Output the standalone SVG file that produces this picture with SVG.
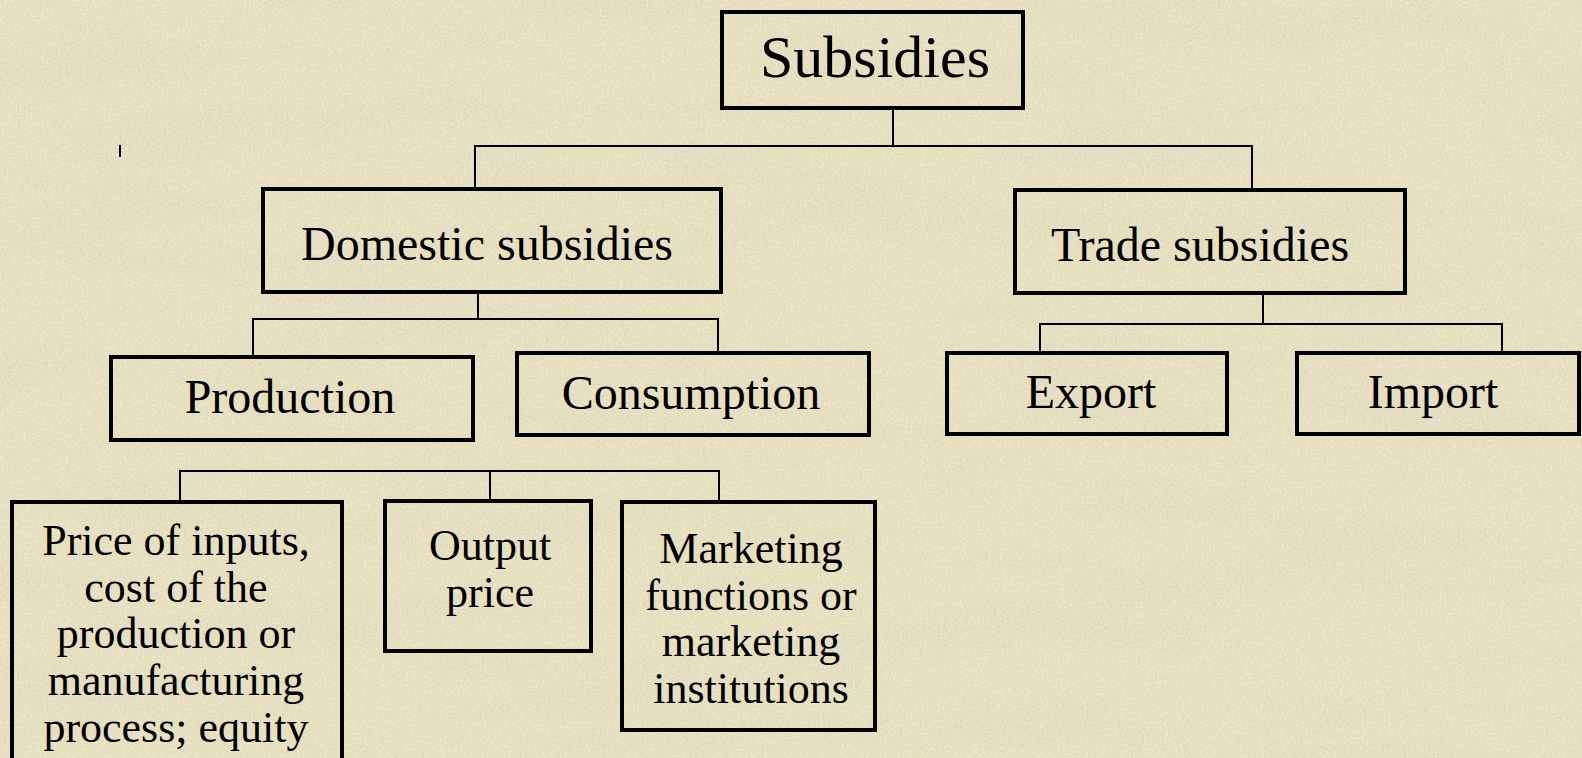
<svg xmlns="http://www.w3.org/2000/svg" width="1582" height="758" viewBox="0 0 1582 758">
  <defs>
    <style>
      .box { fill: none; stroke: #000; stroke-width: 4; }
      .wire { fill: none; stroke: #000; stroke-width: 2; }
      .lbl { font-family: "Liberation Serif", "Times New Roman", serif; fill: #000; text-anchor: middle; }
      .big { font-size: 60px; }
      .mid { font-size: 48px; }
      .small { font-size: 44px; }
    </style>
    <!-- parchment grain: dark mottling -->
    <filter id="grain" x="0" y="0" width="100%" height="100%">
      <feTurbulence type="fractalNoise" baseFrequency="0.3" numOctaves="3" seed="7" result="n"/>
      <feColorMatrix in="n" type="matrix" values="0 0 0 0 0.72  0 0 0 0 0.67  0 0 0 0 0.5  0 0 0 0.9 -0.3" result="spots"/>
      <feComposite in="spots" in2="SourceGraphic" operator="in"/>
    </filter>
    <!-- parchment grain: light flecks -->
    <filter id="flecks" x="0" y="0" width="100%" height="100%">
      <feTurbulence type="fractalNoise" baseFrequency="0.45" numOctaves="2" seed="21" result="n"/>
      <feColorMatrix in="n" type="matrix" values="0 0 0 0 0.95  0 0 0 0 0.93  0 0 0 0 0.82  0 0 0 0.9 -0.3"/>
      <feComposite in2="SourceGraphic" operator="in"/>
    </filter>
    <!-- long faint streaks -->
    <filter id="streaks" x="0" y="0" width="100%" height="100%">
      <feTurbulence type="fractalNoise" baseFrequency="0.004 0.02" numOctaves="2" seed="3" result="s"/>
      <feColorMatrix in="s" type="matrix" values="0 0 0 0 0.7  0 0 0 0 0.65  0 0 0 0 0.5  0 0 0 0.6 -0.2"/>
      <feComposite in2="SourceGraphic" operator="in"/>
    </filter>
  </defs>

  <!-- background -->
  <rect width="1582" height="758" fill="#E5DDB9"/>
  <rect width="1582" height="758" fill="#E5DDB9" filter="url(#streaks)"/>
  <rect width="1582" height="758" fill="#E5DDB9" filter="url(#grain)"/>
  <rect width="1582" height="758" fill="#E5DDB9" filter="url(#flecks)"/>

  <!-- stray tick -->
  <line x1="120" y1="145" x2="120" y2="157" class="wire"/>

  <g id="connectors">
    <!-- Subsidies to second level -->
    <polyline class="wire" points="893,108 893,147"/>
    <polyline class="wire" points="475,188 475,146 1252,146 1252,189"/>
    <!-- Domestic to Production / Consumption -->
    <polyline class="wire" points="478,292 478,319"/>
    <polyline class="wire" points="253,357 253,319 718,319 718,355"/>
    <!-- Trade to Export / Import -->
    <polyline class="wire" points="1263,293 1263,324"/>
    <polyline class="wire" points="1040,353 1040,324 1502,324 1502,353"/>
    <!-- Production's three kinds -->
    <polyline class="wire" points="490,471 490,503"/>
    <polyline class="wire" points="180,500 180,471 719,471 719,500"/>
  </g>

  <g id="subsidies">
    <rect class="box" x="722" y="12" width="301" height="96"/>
    <text class="lbl big" x="875" y="77">Subsidies</text>
  </g>

  <g id="domestic">
    <rect class="box" x="263" y="189" width="458" height="103"/>
    <text class="lbl mid" x="487" y="260">Domestic subsidies</text>
  </g>

  <g id="trade">
    <rect class="box" x="1015" y="190" width="390" height="103"/>
    <text class="lbl mid" x="1200" y="261">Trade subsidies</text>
  </g>

  <g id="production">
    <rect class="box" x="111" y="357" width="362" height="83"/>
    <text class="lbl mid" x="290" y="413">Production</text>
  </g>

  <g id="consumption">
    <rect class="box" x="517" y="353" width="352" height="82"/>
    <text class="lbl mid" x="691" y="409">Consumption</text>
  </g>

  <g id="export">
    <rect class="box" x="947" y="353" width="280" height="81"/>
    <text class="lbl mid" x="1091" y="408">Export</text>
  </g>

  <g id="import">
    <rect class="box" x="1297" y="353" width="282" height="81"/>
    <text class="lbl mid" x="1433" y="408">Import</text>
  </g>

  <g id="inputs">
    <rect class="box" x="12" y="502" width="330" height="270"/>
    <text class="lbl small" x="176" y="555">Price of inputs,</text>
    <text class="lbl small" x="176" y="602">cost of the</text>
    <text class="lbl small" x="176" y="648">production or</text>
    <text class="lbl small" x="176" y="695">manufacturing</text>
    <text class="lbl small" x="176" y="742">process; equity</text>
  </g>

  <g id="output-price">
    <rect class="box" x="385" y="501" width="206" height="150"/>
    <text class="lbl small" x="490" y="560">Output</text>
    <text class="lbl small" x="490" y="607">price</text>
  </g>

  <g id="marketing">
    <rect class="box" x="622" y="502" width="253" height="228"/>
    <text class="lbl small" x="751" y="563">Marketing</text>
    <text class="lbl small" x="751" y="610">functions or</text>
    <text class="lbl small" x="751" y="656">marketing</text>
    <text class="lbl small" x="751" y="703">institutions</text>
  </g>
</svg>
